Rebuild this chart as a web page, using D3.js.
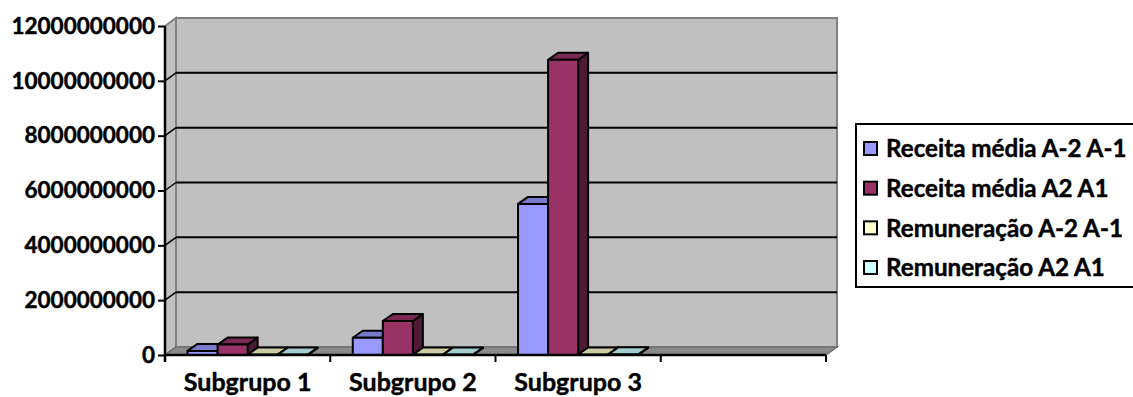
<!DOCTYPE html>
<html>
<head>
<meta charset="utf-8">
<script src="https://cdn.jsdelivr.net/npm/d3@7"></script>
<style>
  html, body { margin: 0; padding: 0; background: #ffffff; }
  svg { display: block; }
  text { font-family: Lato, "Open Sans", sans-serif; font-weight: 700; fill: #000; stroke: #000; stroke-width: 0.45px; }
</style>
</head>
<body>
<svg id="chart" width="1133" height="397"></svg>
<script>
// Category slots along the floor (the fourth slot is unlabeled and empty)
const categories = ["Subgrupo 1", "Subgrupo 2", "Subgrupo 3", ""];

// Series names, in legend order
const seriesNames = [
  "Receita média A-2 A-1",
  "Receita média A2 A1",
  "Remuneração A-2 A-1",
  "Remuneração A2 A1"
];

// Values per series, one entry per category
const receitaA2A1neg = [150000000, 630000000, 5510000000, 0];
const receitaA2A1 = [380000000, 1240000000, 10770000000, 0];
const remuneracaoA2A1neg = [15000000, 15000000, 20000000, 0];
const remuneracaoA2A1 = [15000000, 15000000, 25000000, 0];
const seriesValues = [receitaA2A1neg, receitaA2A1, remuneracaoA2A1neg, remuneracaoA2A1];

// Value-axis ticks
const yTicks = [0, 2000000000, 4000000000, 6000000000, 8000000000, 10000000000, 12000000000];

// Face colours: front, top, side
const palette = [
  { front: "#9999ff", top: "#7a7acc", side: "#4d4d80" },
  { front: "#993366", top: "#7a2952", side: "#4d1a33" },
  { front: "#ffffcc", top: "#cccca3", side: "#808066" },
  { front: "#ccffff", top: "#a3cccc", side: "#668080" }
];

const svg = d3.select("#chart");

// Front plane of the plot and the depth offset of the back wall
const plotL = 165, plotR = 826, plotB = 355, plotT = 26;
const DX = 11, DY = -8;     // wall depth
const BX = 10, BY = -7;     // bar depth

const x = d3.scaleBand().domain(categories.map((c, i) => i)).range([plotL, plotR]).padding(0);
const xs = d3.scaleBand().domain(d3.range(seriesNames.length)).range([0, x.bandwidth()])
  .paddingInner(0).paddingOuter(0.75);
const y = d3.scaleLinear().domain([0, 12000000000]).range([plotB, plotT]);

const poly = pts => pts.map(p => p.join(",")).join(" ");

// Back wall
svg.append("polygon")
  .attr("points", poly([[plotL + DX, plotT + DY], [plotR + DX, plotT + DY], [plotR + DX, plotB + DY], [plotL + DX, plotB + DY]]))
  .attr("fill", "#c0c0c0").attr("stroke", "#808080").attr("stroke-width", 2);

// Side wall
svg.append("polygon")
  .attr("points", poly([[plotL, plotT], [plotL + DX, plotT + DY], [plotL + DX, plotB + DY], [plotL, plotB]]))
  .attr("fill", "#c0c0c0").attr("stroke", "#808080").attr("stroke-width", 2);

// Floor
svg.append("polygon")
  .attr("points", poly([[plotL, plotB], [plotL + DX, plotB + DY], [plotR + DX, plotB + DY], [plotR, plotB]]))
  .attr("fill", "#8a8a8a").attr("stroke", "#707070").attr("stroke-width", 1.5);

// Gridlines on back wall and side wall
const grid = yTicks.filter(v => v > 0 && v < 12000000000);
svg.append("g").selectAll("line").data(grid).join("line")
  .attr("x1", plotL + DX).attr("x2", plotR + DX)
  .attr("y1", d => y(d) + DY).attr("y2", d => y(d) + DY)
  .attr("stroke", "#000").attr("stroke-width", 2);
svg.append("g").selectAll("line").data(grid).join("line")
  .attr("x1", plotL).attr("x2", plotL + DX)
  .attr("y1", d => y(d)).attr("y2", d => y(d) + DY)
  .attr("stroke", "#000").attr("stroke-width", 1.5);

// Bars, drawn left to right so each covers its neighbour's side face
const bars = svg.append("g");
categories.forEach((c, ci) => {
  seriesValues.forEach((vals, si) => {
    const v = vals[ci];
    if (!v) return;
    const x0 = x(ci) + xs(si), x1 = x0 + xs.bandwidth();
    const y0 = y(0), y1 = y(v);
    const col = palette[si];
    const g = bars.append("g").attr("stroke", "#000").attr("stroke-width", 2).attr("stroke-linejoin", "round");
    g.append("polygon")
      .attr("points", poly([[x1, y1], [x1 + BX, y1 + BY], [x1 + BX, y0 + BY], [x1, y0]]))
      .attr("fill", col.side);
    g.append("polygon")
      .attr("points", poly([[x0, y1], [x0 + BX, y1 + BY], [x1 + BX, y1 + BY], [x1, y1]]))
      .attr("fill", col.top);
    if (y0 - y1 > 0.8) {
      g.append("rect").attr("x", x0).attr("y", y1).attr("width", x1 - x0).attr("height", y0 - y1)
        .attr("fill", col.front);
    }
  });
});

// Category axis
const xAxisG = svg.append("g");
xAxisG.append("line").attr("x1", plotL).attr("x2", plotR).attr("y1", plotB).attr("y2", plotB)
  .attr("stroke", "#000").attr("stroke-width", 2.5);
xAxisG.selectAll("line.tick").data(d3.range(categories.length + 1)).join("line")
  .attr("class", "tick")
  .attr("x1", i => plotL + i * x.step()).attr("x2", i => plotL + i * x.step())
  .attr("y1", plotB).attr("y2", plotB + 7)
  .attr("stroke", "#000").attr("stroke-width", 2);
xAxisG.selectAll("text").data(categories).join("text")
  .attr("x", (d, i) => x(i) + x.bandwidth() / 2)
  .attr("y", 391)
  .attr("text-anchor", "middle")
  .attr("font-size", 25)
  .text(d => d);

// Value axis
const yAxis = d3.axisLeft(y).tickValues(yTicks).tickFormat(d3.format("d")).tickSize(7).tickPadding(3);
const yAxisG = svg.append("g").attr("transform", `translate(${plotL},0)`).call(yAxis);
yAxisG.select(".domain").attr("stroke", "#000").attr("stroke-width", 2.5)
  .attr("d", `M0,${plotT}V${plotB + 7}`);
yAxisG.selectAll(".tick line").attr("stroke", "#000").attr("stroke-width", 2);
yAxisG.selectAll(".tick text").attr("font-size", 22.5).attr("font-family", "Lato, sans-serif")
  .attr("font-weight", 700).attr("fill", "#000");

// Legend
const lg = svg.append("g");
lg.append("rect").attr("x", 856).attr("y", 124).attr("width", 280).attr("height", 163)
  .attr("fill", "#fff").attr("stroke", "#000").attr("stroke-width", 2);
const rowY = d3.scalePoint().domain(d3.range(seriesNames.length)).range([149, 268]);
const items = lg.selectAll("g.item").data(seriesNames).join("g")
  .attr("class", "item")
  .attr("transform", (d, i) => `translate(0,${rowY(i)})`);
items.append("rect").attr("x", 864).attr("y", -7).attr("width", 13).attr("height", 13)
  .attr("fill", (d, i) => palette[i].front).attr("stroke", "#000").attr("stroke-width", 2);
items.append("text").attr("x", 886).attr("y", 0).attr("dy", "0.35em")
  .attr("font-size", 24.2).text(d => d);
</script>
</body>
</html>
